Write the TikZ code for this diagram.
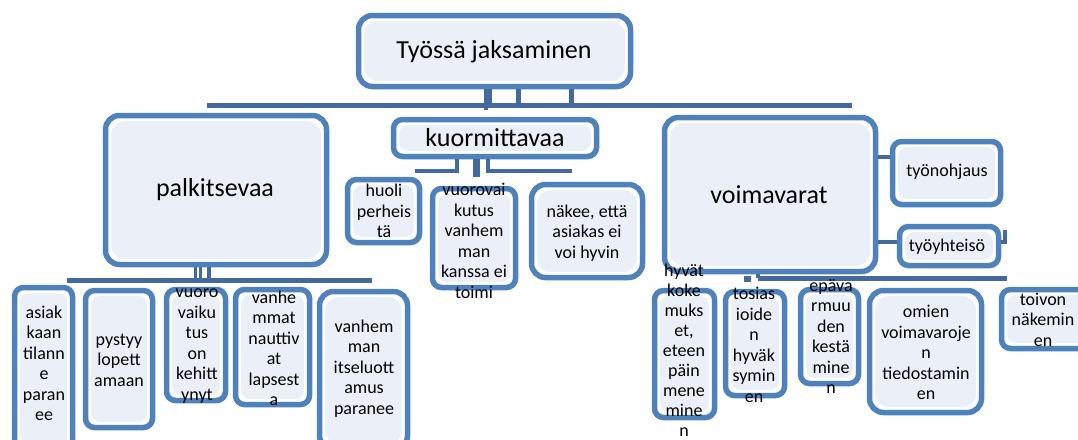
\documentclass[tikz,border=0pt]{standalone}
\usepackage{fontspec}
\setmainfont{Carlito}
\usetikzlibrary{calc}
\definecolor{bord}{HTML}{4F81BD}
\definecolor{connc}{HTML}{43699F}
\definecolor{innerc}{HTML}{EBF0F8}
\tikzset{
  box/.style={draw=bord,line width=5.5pt,fill=white,rounded corners=9pt,inner sep=0pt,
    path picture={\fill[innerc] ([shift={(5.5pt,-5.5pt)}]path picture bounding box.north west) rectangle ([shift={(-5.5pt,5.5pt)}]path picture bounding box.south east);}},
  bigbox/.style={rounded corners=14pt},
  bigtxt/.style={font=\fontsize{26}{30}\selectfont,inner sep=0pt},
  smalltxt/.style={font=\fontsize{18}{20.5}\selectfont,align=center,inner sep=0pt},
  conn/.style={draw=connc,line width=5pt},
}
\newcommand\mkbox[6][]{\node[box,#1,minimum width={#5-#3-5},minimum height={#6-#4-5}] (#2) at ({(#3+#5)/2},{(#4+#6)/2}) {};}
\begin{document}
\begin{tikzpicture}[x=1pt,y=-1pt]
\useasboundingbox (0,0) rectangle (1078,439);
\begin{scope}
\clip (0,0) rectangle (1078,439);
% boxes
\mkbox[bigbox]{top}{356}{13}{633}{89}
\mkbox[bigbox]{pal}{103}{113}{329}{267}
\mkbox{kuo}{391}{117}{599}{159}
\mkbox[bigbox]{voi}{662}{115}{878}{274}
\mkbox{tyo}{890}{139}{1003}{207}
\mkbox{tyy}{897}{224}{1001}{268}
\mkbox{huo}{345}{177}{422}{245}
\mkbox{vuo}{430}{186}{518}{290}
\mkbox[bigbox]{nak}{529}{182}{645}{280}
\mkbox{la}{12}{285}{75}{452}
\mkbox{lb}{83}{288}{155}{430}
\mkbox{lc}{164}{287}{228}{403}
\mkbox{ld}{233}{287}{312}{407}
\mkbox[bigbox]{le}{317}{289}{410}{452}
\mkbox{ra}{652}{288}{717}{420}
\mkbox{rb}{723}{289}{787}{398}
\mkbox{rc}{798}{287}{861}{386}
\mkbox[bigbox]{rd}{867}{288}{984}{415}
\mkbox{re}{999}{287}{1095}{351}
% connectors: top
\coordinate (busTL) at (207,105);
\coordinate (busTR) at (852,105);
\draw[conn] (busTL) -- (busTR);
\draw[conn] ($(top.south)+(-5.5,0)$) coordinate (t1) -- (t1 |- busTL);
\draw[conn] ($(top.south)+(23.5,0)$) coordinate (t2) -- (t2 |- busTL);
\draw[conn] ($(top.south)+(76.5,0)$) coordinate (t3) -- (t3 |- busTL);
\draw[conn,line width=4pt] ($(top.south)+(-8.5,0)$) coordinate (t4) -- ($(t4 |- busTL)+(0,5)$);
% palkitsevaa
\coordinate (busPL) at (67,280);
\coordinate (busPR) at (372,280);
\draw[conn] (busPL) -- (busPR);
\draw[conn,line width=3pt] ($(pal.south)+(-21,0)$) coordinate (p1) -- (p1 |- busPL);
\draw[conn,line width=3pt] ($(pal.south)+(-16,0)$) coordinate (p2) -- (p2 |- busPL);
\draw[conn,line width=4pt] ($(pal.south)+(-7,0)$) coordinate (p3) -- (p3 |- busPL);
% kuormittavaa
\coordinate (busKL) at (415,171);
\coordinate (busKR) at (572,171);
\draw[conn,line width=4pt] ($(kuo.south)+(-38,0)$) coordinate (k1) |- (busKL);
\draw[conn,line width=7pt] ($(kuo.south)+(-19,0)$) coordinate (k2) -- ($(k2 |- busKL)+(0,6)$);
\draw[conn,line width=4pt] ($(kuo.south)+(-7,0)$) coordinate (k3) |- (busKR);
% voimavarat
\coordinate (busVL) at (758,278);
\coordinate (busVR) at (1007,278);
\draw[conn] (busVL) -- (busVR);
\draw[conn,line width=4pt] ($(voi.south)+(-12,0)$) coordinate (v1) -- (v1 |- busVL);
\fill[connc] ($(voi.south)+(-26,2)$) coordinate (v2) rectangle ++(7,6);
\draw[conn,line width=4pt] ($(voi.east)+(0,-38)$) coordinate (v3) -- (v3 -| tyo.west);
\draw[conn,line width=4pt] ($(voi.east)+(0,47)$) coordinate (v4) -- (v4 -| tyy.west);
\draw[conn,line width=4pt] ($(tyy.north east)+(4,6)$) coordinate (v5) -- ++(0,12) -- ++(-4,0);
\end{scope}
% texts
\node[bigtxt] (ttop) at (494,52) {Työssä jaksaminen};
\node[bigtxt] (tpal) at (215,190) {palkitsevaa};
\node[bigtxt] (tkuo) at (495,138) {kuormittavaa};
\node[bigtxt] (tvoi) at (769,195) {voimavarat};
\node[smalltxt] (ttyo) at (947,172) {työnohjaus};
\node[smalltxt] (ttyy) at (947,247) {työyhteisö};
\node[smalltxt] (thuo) at (384,211) {huoli\\perheis\\tä};
\node[smalltxt] (tvuo) at (474,241) {vuorovai\\kutus\\vanhem\\man\\kanssa ei\\toimi};
\node[smalltxt] (tnak) at (587,233) {näkee, että\\asiakas ei\\voi hyvin};
\node[smalltxt] (tla) at (44,363.5) {asiak\\kaan\\tilann\\e\\paran\\ee};
\node[smalltxt] (tlb) at (119,360) {pystyy\\lopett\\amaan};
\node[smalltxt] (tlc) at (197,346) {vuoro\\vaiku\\tus\\on\\kehitt\\ynyt};
\node[smalltxt] (tld) at (274,348.5) {vanhe\\mmat\\nauttiv\\at\\lapsest\\a};
\node[smalltxt] (tle) at (364,368.5) {vanhem\\man\\itseluott\\amus\\paranee};
\node[smalltxt,font=\fontsize{18}{20}\selectfont] (tra) at (684,350) {hyvät\\koke\\muks\\et,\\eteen\\päin\\mene\\mine\\n};
\node[smalltxt] (trb) at (754,345) {tosias\\ioide\\n\\hyväk\\symin\\en};
\node[smalltxt] (trc) at (831,336.5) {epäva\\rmuu\\den\\kestä\\mine\\n};
\node[smalltxt] (trd) at (926,352.5) {omien\\voimavaroje\\n\\tiedostamin\\en};
\node[smalltxt] (tre) at (1043,319.5) {toivon\\näkemin\\en};
\end{tikzpicture}
\end{document}
